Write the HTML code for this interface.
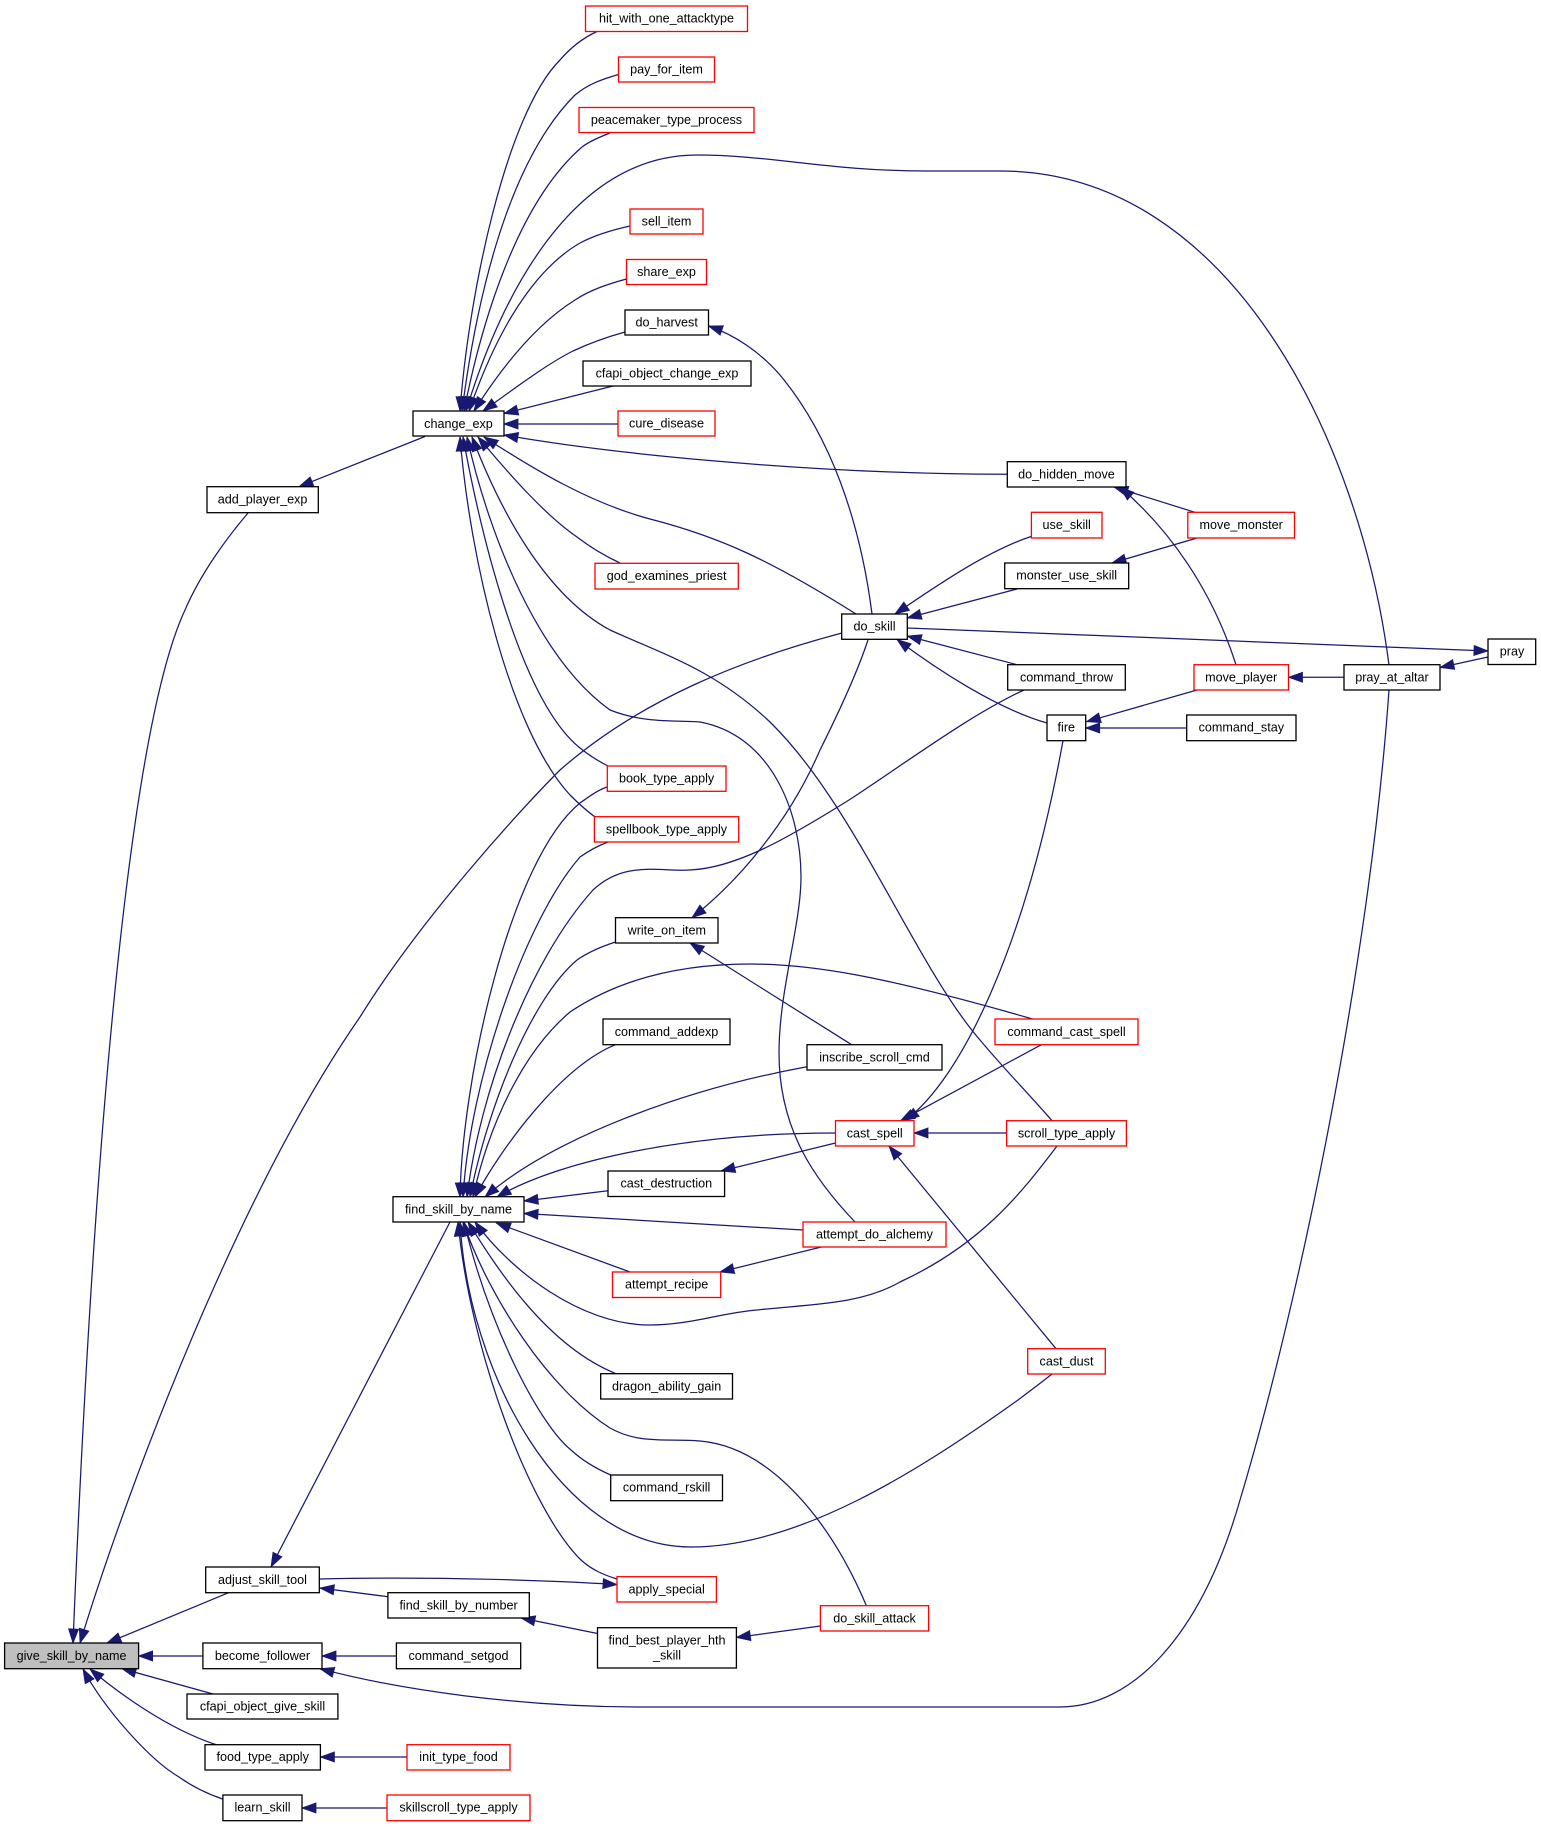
<!DOCTYPE html>
<html>
<head>
<meta charset="utf-8">
<title>give_skill_by_name</title>
<style>
html,body{margin:0;padding:0;background:#fff;}
svg{display:block;filter:blur(0.3px);}
.e path{fill:none;stroke:#191970;stroke-width:1.25;marker-start:url(#a);}
.n rect{fill:#fff;stroke:#000;stroke-width:1.3;}
.r rect{fill:#fff;stroke:#f00;stroke-width:1.3;}
text{font-family:"Liberation Sans",sans-serif;font-size:12.6px;text-anchor:middle;fill:#000;}
</style>
</head>
<body>
<svg xmlns="http://www.w3.org/2000/svg" width="1541" height="1827" viewBox="0 0 1541 1827">
<defs>
<marker id="a" markerUnits="userSpaceOnUse" markerWidth="15" markerHeight="11" refX="14" refY="5" orient="auto-start-reverse" overflow="visible">
<path d="M0 0L14 5L0 10z" fill="#191970" stroke="#191970" stroke-width="0.8"/>
</marker>
</defs>
<rect width="1541" height="1827" fill="#fff"/>
<g class="e">
<!-- change_exp callers -->
<path d="M460 411C468 300 505 115 560 60C572 46 585 37 597 31.5"/>
<path d="M462 411C475 310 505 165 575 95C588 84 603 79 618.5 74.5"/>
<path d="M464 411C480 330 515 205 582 147C590 141 600 137 610 133"/>
<path d="M466 411C500 300 570 155 697 155C770 155 830 171 925 171L1000 171C1230 171 1360 440 1389 665"/>
<path d="M469 411C490 350 525 275 580 243C595 235 612 230 630 226"/>
<path d="M474 411C500 370 535 325 575 300C590 290 608 284 626.5 279"/>
<path d="M483 411C510 392 545 365 573 351C590 343 607 337 625 332"/>
<path d="M504 413.5L613 386"/>
<path d="M504 424L618 424"/>
<path d="M504 435C600 452 800 474 1007 474.3"/>
<path d="M484 437C535 470 590 503 650 519C720 537 770 560 856 614"/>
<path d="M478 437C510 475 545 515 577 537C590 547 605 556 620 563"/>
<path d="M472 437C500 510 545 595 610 630C665 655 715 670 770 722C855 805 915 965 980 1040C1005 1070 1030 1095 1052 1120.7"/>
<path d="M467 437C490 540 540 660 610 710C645 724 680 720 700 722C770 735 801 810 801 877C801 925 779 990 779 1053C779 1130 815 1180 855 1222"/>
<path d="M463 437C480 530 520 700 580 748C590 756 600 762 608 766"/>
<path d="M460 437C470 560 510 730 570 795C578 803 587 811 595 817"/>
<path d="M299 486.7L425 436.5"/>
<!-- give_skill_by_name callers -->
<path d="M73 1643C85 1350 115 760 185 610C200 575 225 540 248 513"/>
<path d="M80 1643C130 1480 240 1190 360 1017C420 920 520 810 560 770C640 700 740 660 842 633"/>
<path d="M107 1643L228.6 1592.7"/>
<path d="M138.6 1656L203 1656"/>
<path d="M122 1668.7L213 1694"/>
<path d="M90 1669C115 1690 165 1728 217 1745"/>
<path d="M83 1669C105 1710 150 1760 179 1777C193 1787 208 1794 222.5 1799"/>
<!-- adjust_skill_tool etc -->
<path d="M271 1567L450 1222"/>
<path d="M617 1584.5C560 1581 440 1576 319.3 1579"/>
<path d="M320 1588L388 1596.7"/>
<path d="M521 1618L597.5 1633.5"/>
<path d="M736.4 1637.5L820.4 1626"/>
<path d="M322 1656L396.4 1656"/>
<path d="M320 1668.7C400 1690 520 1707 640 1707L1060 1707C1130 1707 1200 1640 1240 1500C1300 1300 1370 960 1389 690"/>
<path d="M320.4 1757L407 1757"/>
<path d="M302 1808L387 1808"/>
<!-- do_skill callers -->
<path d="M708.5 326C735 335 760 352 780 375C830 435 860 520 872 614"/>
<path d="M895 614C935 587 985 552 1031 536.5"/>
<path d="M907.3 618L1017 589"/>
<path d="M1488 651L907.3 628"/>
<path d="M907.3 636L1017 664.7"/>
<path d="M897 639.5C935 668 995 708 1047 723"/>
<path d="M692 917.7C740 880 790 820 820 750C840 710 858 670 868 640"/>
<!-- find_skill_by_name top fan -->
<path d="M460 1197C462 1080 510 860 580 803C590 796 598 790 607 787"/>
<path d="M463 1197C470 1080 525 920 580 857C590 850 600 845 608 842"/>
<path d="M467 1197C480 1090 530 960 593 890C625 860 660 872 690 870C735 868 785 840 849 800C910 760 970 715 1024 690"/>
<path d="M470 1197C487 1110 530 1000 577 960C590 951 603 946 615.5 942"/>
<path d="M473 1197C490 1120 525 1050 570 1012C625 975 690 964 751 964C810 964 880 975 1032.6 1019"/>
<path d="M475 1197C500 1150 560 1067 615.5 1044.7"/>
<path d="M485 1197C550 1140 680 1090 807 1066.7"/>
<path d="M497 1197C560 1160 690 1133 835.5 1133"/>
<path d="M524 1201L608 1190.7"/>
<path d="M524 1213.5L803 1230"/>
<path d="M496.4 1223L630 1272"/>
<!-- find_skill_by_name bottom fan -->
<path d="M475 1222C510 1270 580 1325 650 1325C690 1325 720 1313 757 1310C810 1304 860 1305 900 1282C980 1245 1020 1195 1057 1146"/>
<path d="M468 1222C495 1265 545 1345 616 1373.7"/>
<path d="M463 1222C490 1300 550 1390 610 1428C640 1445 670 1438 700 1441C770 1447 830 1520 866.4 1605.7"/>
<path d="M464 1222C490 1330 540 1425 571 1450C584 1462 597 1469 610.7 1475"/>
<path d="M460 1222C468 1370 560 1547 691 1547C800 1547 920 1470 1018 1400C1030 1391 1042 1382 1052 1374"/>
<path d="M458 1222C470 1350 530 1510 581 1560C592 1570 604 1575 617 1579"/>
<!-- others -->
<path d="M721 1171L835.5 1143"/>
<path d="M720 1272L821.4 1247"/>
<path d="M914 1133L1006.6 1133"/>
<path d="M900.6 1120.7L1041.4 1044.7"/>
<path d="M905 1120.7C960 1080 1025 950 1063 740.7"/>
<path d="M889 1146L1056 1348.7"/>
<path d="M690 943L851.6 1044.7"/>
<path d="M1114 487L1195 512.3"/>
<path d="M1120 487C1170 530 1212 590 1236 664.7"/>
<path d="M1112 563L1197 538"/>
<path d="M1440 667.5L1488 657"/>
<path d="M1288.5 677.3L1344 677.3"/>
<path d="M1086.5 721.7L1197 690"/>
<path d="M1085.7 728L1186.7 728"/>
</g>

<g class="n">
<rect x="4.6" y="1643" width="134" height="25.7" style="fill:#bfbfbf"/><text x="71.6" y="1660">give_skill_by_name</text>
<rect x="413" y="411" width="91" height="25"/><text x="458.5" y="428">change_exp</text>
<rect x="207" y="486.7" width="111.3" height="26"/><text x="262.6" y="503.5">add_player_exp</text>
<rect x="393" y="1196.7" width="131" height="25.3"/><text x="458.5" y="1213.5">find_skill_by_name</text>
<rect x="205.7" y="1567" width="113.6" height="25.7"/><text x="262.5" y="1584">adjust_skill_tool</text>
<rect x="387.9" y="1592.7" width="141.4" height="25.3"/><text x="458.6" y="1609.5">find_skill_by_number</text>
<rect x="202.9" y="1643" width="119.1" height="25.7"/><text x="262.5" y="1660">become_follower</text>
<rect x="396.4" y="1643" width="124.3" height="25.7"/><text x="458.5" y="1660">command_setgod</text>
<rect x="187" y="1694" width="150.9" height="25"/><text x="262.5" y="1710.5">cfapi_object_give_skill</text>
<rect x="205" y="1744.7" width="115.4" height="25.3"/><text x="262.7" y="1761">food_type_apply</text>
<rect x="222.9" y="1795" width="79.1" height="25.7"/><text x="262.5" y="1811.5">learn_skill</text>
<rect x="625" y="310" width="83.5" height="25"/><text x="666.7" y="326.5">do_harvest</text>
<rect x="583" y="361" width="168" height="25"/><text x="667" y="377.5">cfapi_object_change_exp</text>
<rect x="615.5" y="917.7" width="102.5" height="25.3"/><text x="666.8" y="934.5">write_on_item</text>
<rect x="603" y="1019" width="127" height="25.7"/><text x="666.5" y="1036">command_addexp</text>
<rect x="608" y="1171" width="116.6" height="25.5"/><text x="666.3" y="1187.5">cast_destruction</text>
<rect x="600.7" y="1373.7" width="131.8" height="25.3"/><text x="666.6" y="1390.5">dragon_ability_gain</text>
<rect x="610.7" y="1475" width="111.8" height="25.7"/><text x="666.6" y="1491.5">command_rskill</text>
<rect x="597.5" y="1627.7" width="138.9" height="40.3"/><text x="667" y="1644.5">find_best_player_hth</text><text x="667" y="1659.5">_skill</text>
<rect x="841.7" y="614" width="65.6" height="25.3"/><text x="874.5" y="630.5">do_skill</text>
<rect x="807" y="1044.7" width="135" height="25.3"/><text x="874.5" y="1061.5">inscribe_scroll_cmd</text>
<rect x="1007.3" y="461.7" width="118.7" height="25.3"/><text x="1066.5" y="478.5">do_hidden_move</text>
<rect x="1004.7" y="563" width="124" height="25.7"/><text x="1066.7" y="579.5">monster_use_skill</text>
<rect x="1007.7" y="664.7" width="117.6" height="25.3"/><text x="1066.5" y="681.5">command_throw</text>
<rect x="1047" y="715" width="38.7" height="25.7"/><text x="1066.3" y="731.5">fire</text>
<rect x="1186.7" y="715" width="109.3" height="25.7"/><text x="1241.3" y="731.5">command_stay</text>
<rect x="1344" y="664.7" width="96" height="25.3"/><text x="1392" y="681.5">pray_at_altar</text>
<rect x="1488" y="639" width="47.7" height="25.5"/><text x="1512" y="655.5">pray</text>
</g>

<g class="r">
<rect x="585.5" y="6" width="162" height="25.5"/><text x="666.5" y="22.5">hit_with_one_attacktype</text>
<rect x="618.5" y="57" width="96" height="25"/><text x="666.5" y="73.5">pay_for_item</text>
<rect x="579" y="107.5" width="175" height="25"/><text x="666.5" y="124">peacemaker_type_process</text>
<rect x="630" y="209" width="73" height="25"/><text x="666.5" y="225.5">sell_item</text>
<rect x="626.5" y="259.5" width="80" height="25"/><text x="666.5" y="276">share_exp</text>
<rect x="618" y="411" width="97" height="25"/><text x="666.5" y="427.5">cure_disease</text>
<rect x="595" y="563.3" width="143.3" height="25.7"/><text x="666.6" y="580">god_examines_priest</text>
<rect x="607.3" y="766" width="118.7" height="25.3"/><text x="666.6" y="782.5">book_type_apply</text>
<rect x="594.4" y="816.7" width="144.3" height="25.3"/><text x="666.5" y="833.5">spellbook_type_apply</text>
<rect x="1031.4" y="512.3" width="70.6" height="25.7"/><text x="1066.7" y="529">use_skill</text>
<rect x="1187.8" y="512.3" width="106.7" height="25.7"/><text x="1241.2" y="529">move_monster</text>
<rect x="1194" y="664.7" width="94.5" height="25.3"/><text x="1241.2" y="681.5">move_player</text>
<rect x="995" y="1019" width="143" height="25.7"/><text x="1066.5" y="1036">command_cast_spell</text>
<rect x="835.5" y="1120.7" width="78.5" height="25.3"/><text x="874.7" y="1137.5">cast_spell</text>
<rect x="1006.6" y="1120.7" width="119.8" height="25.3"/><text x="1066.5" y="1137.5">scroll_type_apply</text>
<rect x="803" y="1222" width="143" height="25"/><text x="874.5" y="1238.5">attempt_do_alchemy</text>
<rect x="612.5" y="1272" width="108.2" height="25.5"/><text x="666.6" y="1288.5">attempt_recipe</text>
<rect x="1027.7" y="1348.7" width="77.6" height="25.3"/><text x="1066.5" y="1365.5">cast_dust</text>
<rect x="617" y="1576.7" width="99.4" height="25.3"/><text x="666.7" y="1593.5">apply_special</text>
<rect x="820.4" y="1605.7" width="108.2" height="25.3"/><text x="874.5" y="1622.5">do_skill_attack</text>
<rect x="407" y="1744.7" width="103" height="25.3"/><text x="458.5" y="1761">init_type_food</text>
<rect x="387" y="1795" width="143" height="25.7"/><text x="458.5" y="1811.5">skillscroll_type_apply</text>
</g>
</svg>
</body>
</html>
